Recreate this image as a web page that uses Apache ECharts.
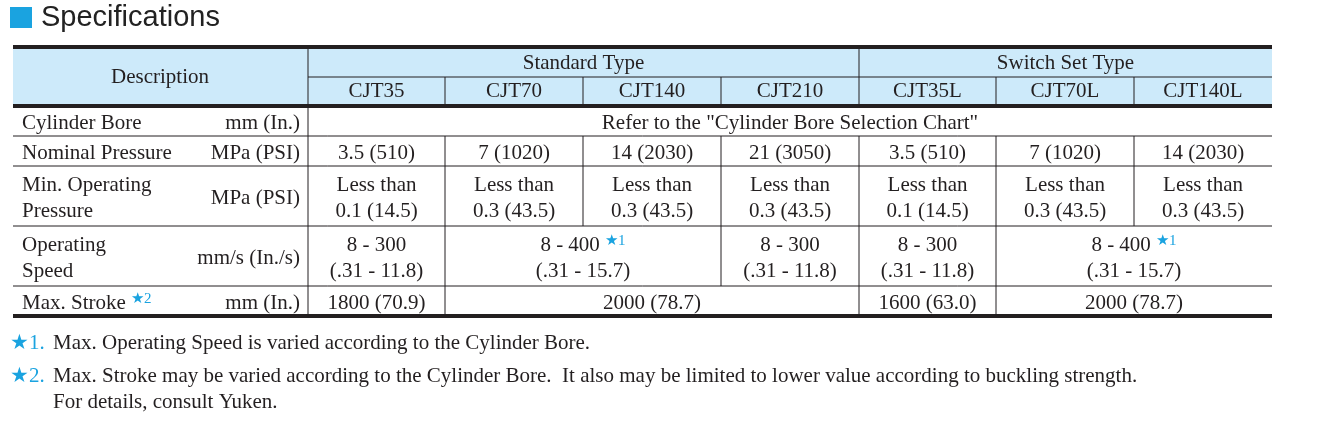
<!DOCTYPE html><html><head><meta charset="utf-8">
<script src="https://cdn.jsdelivr.net/npm/echarts@6/dist/echarts.min.js"></script>
<style>body{margin:0;background:#fff}#c{width:1327px;height:445px}</style></head><body><div id="c"></div>
<script>
const title = "Specifications";
const groupHeaders = [["Standard Type",4],["Switch Set Type",3]];
const models = ["CJT35","CJT70","CJT140","CJT210","CJT35L","CJT70L","CJT140L"];
const rowLabels = [["Cylinder Bore"],["Nominal Pressure"],["Min. Operating","Pressure"],["Operating","Speed"],["Max. Stroke"]];
const rowUnits = ["mm (In.)","MPa (PSI)","MPa (PSI)","mm/s (In./s)","mm (In.)"];
const rowCells = [
 [[["Refer to the \"Cylinder Bore Selection Chart\""],7]],
 [[["3.5 (510)"],1],[["7 (1020)"],1],[["14 (2030)"],1],[["21 (3050)"],1],[["3.5 (510)"],1],[["7 (1020)"],1],[["14 (2030)"],1]],
 [[["Less than","0.1 (14.5)"],1],[["Less than","0.3 (43.5)"],1],[["Less than","0.3 (43.5)"],1],[["Less than","0.3 (43.5)"],1],[["Less than","0.1 (14.5)"],1],[["Less than","0.3 (43.5)"],1],[["Less than","0.3 (43.5)"],1]],
 [[["8 - 300","(.31 - 11.8)"],1],[["8 - 400 ★1","(.31 - 15.7)"],2],[["8 - 300","(.31 - 11.8)"],1],[["8 - 300","(.31 - 11.8)"],1],[["8 - 400 ★1","(.31 - 15.7)"],2]],
 [[["1800 (70.9)"],1],[["2000 (78.7)"],3],[["1600 (63.0)"],1],[["2000 (78.7)"],2]]
];
const footnotes = [["★1.","Max. Operating Speed is varied according to the Cylinder Bore."],["★2.","Max. Stroke may be varied according to the Cylinder Bore.  It also may be limited to lower value according to buckling strength."],["","For details, consult Yuken."]];
const star2 = "★2";

const X=[13,308,445,583,721,859,996,1134,1272];
const Y=[107,136,166,226,286,316];
const F='"Liberation Serif", serif', C='#231f20', BLUE='#1aa3e0', FS=21;
const g=[];
const line=(x1,y1,x2,y2,w)=>g.push({type:'line',shape:{x1,y1,x2,y2},style:{stroke:C,lineWidth:w||1}});
const rich={s:{fill:BLUE,fontSize:15,fontFamily:F,verticalAlign:'top',padding:[0,0,8,0]}};
function fmt(t){return t.replace(/ ★(\d)/g,' {s|★$1}');}
const txt=(x,y,t,align,size)=>g.push({type:'text',x,y:y+2,style:{text:fmt(t),fill:C,fontFamily:F,fontSize:size||FS,align:align||'center',verticalAlign:'middle',rich}});
g.push({type:'rect',shape:{x:10,y:7,width:22,height:21},style:{fill:BLUE}});
g.push({type:'text',x:41,y:18,style:{text:title,fill:'#222',fontFamily:'"Liberation Sans", Arial, sans-serif',fontSize:29,verticalAlign:'middle'}});
g.push({type:'rect',shape:{x:13,y:49,width:1259,height:56},style:{fill:'#cdeafa'}});
line(13,47,1272,47,4); line(13,106,1272,106,4); line(13,316,1272,316,4);
line(308,77,1272,77,1);
line(308,49,308,314,1); line(859,49,859,77,1);
for(let i=2;i<8;i++) line(X[i],77,X[i],104,1);
for(let r=1;r<5;r++) line(13,Y[r],1272,Y[r],1);
txt(160,75,"Description");
let c=1; groupHeaders.forEach(([t,s])=>{txt((X[c]+X[c+s])/2,61,t);c+=s;});
models.forEach((m,i)=>txt((X[i+1]+X[i+2])/2,89,m));
rowLabels.forEach((lb,r)=>{
 const cy=(Y[r]+Y[r+1])/2;
 lb.forEach((t,k)=>txt(22,cy+(k-(lb.length-1)/2)*26,r==4?t+" "+star2:t,'left'));
 txt(300,cy,rowUnits[r],'right');
 let col=1;
 rowCells[r].forEach(([lines,span])=>{
  const x1=X[col],x2=X[col+span];
  if(col>1) line(x1,Y[r],x1,Y[r+1],1);
  lines.forEach((t,k)=>txt((x1+x2)/2,cy+(k-(lines.length-1)/2)*26,t));
  col+=span;
 });
});
footnotes.forEach(([s,t],i)=>{
 const y=341+i*33-(i==2?7:0);
 if(s) g.push({type:'text',x:10,y:y+2,style:{text:s,fill:BLUE,fontFamily:F,fontSize:FS,verticalAlign:'middle'}});
 txt(53,y,t,'left');
});
const ch=echarts.init(document.getElementById('c'));
ch.setOption({animation:false,graphic:{elements:g}});
</script></body></html>
